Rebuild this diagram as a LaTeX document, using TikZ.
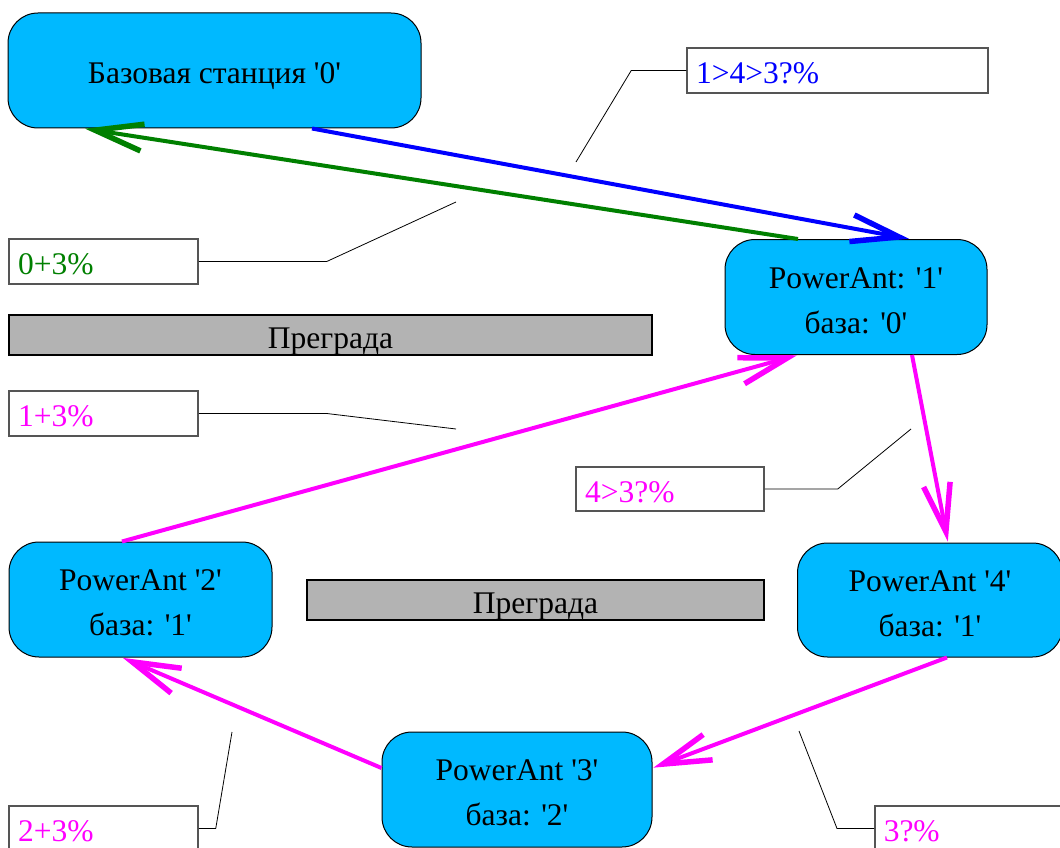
\documentclass[tikz,border=0pt]{standalone}
\usepackage{fontspec}
\setmainfont{Liberation Serif}
\usetikzlibrary{arrows.meta}
\definecolor{antfill}{RGB}{0,185,255}
\definecolor{obstfill}{RGB}{179,179,179}
\definecolor{boxline}{RGB}{85,85,85}
\definecolor{lgreen}{RGB}{0,128,0}
\definecolor{lblue}{RGB}{0,0,255}
\definecolor{lmag}{RGB}{255,0,255}
\newcommand\qq{\textquotesingle}
\newcommand\st{\rule[-7pt]{0pt}{40pt}}
\newcommand\twoline[2]{\begin{tabular}{@{}c@{}}\rule{0pt}{40.5pt}#1\\#2\end{tabular}}
\begin{document}
\begin{tikzpicture}[x=1pt,y=-1pt,
  every node/.style={font=\fontsize{31.5}{45}\selectfont, inner sep=0pt},
  antbox/.style={draw=black, line width=1pt, fill=antfill, rounded corners=30pt, align=center},
  obst/.style={draw=black, line width=1.2pt, fill=obstfill},
  lbl/.style={draw=boxline, line width=1.5pt, fill=white, align=left, inner xsep=9pt},
  leader/.style={draw=black, line width=0.8pt},
  link/.style={line width=4pt, -{Straight Barb[length=48pt,width=27pt,line width=5.5pt]}, shorten >=1pt}
]
\clip (0,0) rectangle (1060,848);
\fill[white] (0,0) rectangle (1060,848);

% nodes
\node[antbox, minimum width=413pt, minimum height=115pt] (base) at (214.5,70.5) {\st Базовая станция \qq0\qq};
\node[antbox, minimum width=262pt, minimum height=115pt] (p1) at (856,297) {\twoline{PowerAnt: \qq1\qq}{база: \qq0\qq}};
\node[antbox, minimum width=263pt, minimum height=115pt] (p2) at (140.5,599.5) {\twoline{PowerAnt \qq2\qq}{база: \qq1\qq}};
\node[antbox, minimum width=265pt, minimum height=114pt] (p4) at (930,600) {\twoline{PowerAnt \qq4\qq}{база: \qq1\qq}};
\node[antbox, minimum width=270pt, minimum height=115pt] (p3) at (517,789.5) {\twoline{PowerAnt \qq3\qq}{база: \qq2\qq}};

\node[obst, minimum width=643pt, minimum height=40pt] (o1) at (330.5,335) {\st Преграда};
\node[obst, minimum width=457pt, minimum height=40pt] (o2) at (535.5,600) {\st Преграда};

% labels
\node[lbl, text=lblue, text width=283pt, minimum height=45pt] (l1) at (837.5,70.5) {\st 1>4>3?\%};
\node[lbl, text=lgreen, text width=171pt, minimum height=45pt] (l0) at (103.5,261.5) {\st 0+3\%};
\node[lbl, text=lmag, text width=171pt, minimum height=45pt] (l2) at (103.5,413.5) {\st 1+3\%};
\node[lbl, text=lmag, text width=170pt, minimum height=44pt] (l3) at (670,489) {\st 4>3?\%};
\node[lbl, text=lmag, text width=171pt, minimum height=45pt] (l4) at (103.5,828.5) {\st 2+3\%};
\node[lbl, text=lmag, text width=250pt, minimum height=45pt, anchor=west] (l5) at (874,828.5) {\st 3?\%};

% leader end points
\coordinate (e1) at (576,162);
\coordinate (e0) at (456,202);
\coordinate (e2) at (456,429);
\coordinate (e3) at (911,429);
\coordinate (e4) at (232,732);
\coordinate (e5) at (799,731);

\draw[leader] (l1.west) -- ++(-55,0) -- (e1);
\draw[leader] (l0.east) -- ++(128,0) -- (e0);
\draw[leader] (l2.east) -- ++(128,0) -- (e2);
\draw[leader] (l3.east) -- ++(73,0) -- (e3);
\draw[leader] (l4.east) -- ++(17,0) -- (e4);
\draw[leader] (l5.west) -- ++(-37,0) -- (e5);

% links
\draw[link, lblue] ([xshift=97.5pt]base.south) -- ([xshift=54pt]p1.north);
\draw[link, lgreen] ([xshift=-58pt]p1.north) -- ([xshift=-130.5pt]base.south);
\draw[link, lmag] ([xshift=-18.5pt]p2.north) -- ([xshift=-58pt]p1.south);
\draw[link, lmag] ([xshift=56pt]p1.south) -- ([xshift=18pt]p4.north);
\draw[link, lmag] ([xshift=17pt]p4.south) -- ([yshift=21.5pt]p3.east);
\draw[link, lmag] ([yshift=21.5pt]p3.west) -- ([xshift=-18.5pt]p2.south);
\end{tikzpicture}
\end{document}
